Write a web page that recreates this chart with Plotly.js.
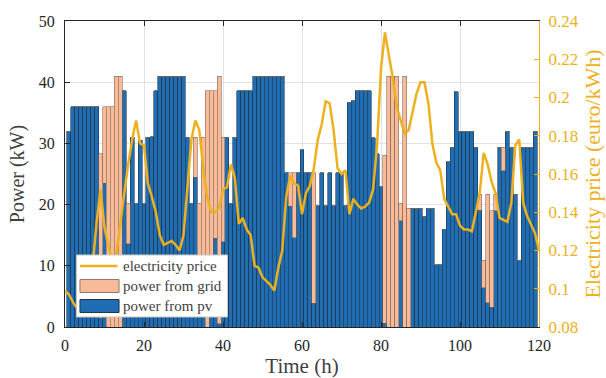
<!DOCTYPE html>
<html>
<head>
<meta charset="utf-8">
<script src="https://cdn.plot.ly/plotly-3.0.1.min.js"></script>
<style>
html,body{margin:0;padding:0;background:#fff;}
#chart{width:606px;height:378px;}
</style>
</head>
<body>
<div id="chart"></div>
<script>
// Hour index of each bar (1..119)
const hours = Array.from({length: 119}, (_, i) => i + 1);

// Power supplied by PV (kW), bars 1..119
const pvPower = [
  32, 36, 36, 36, 36, 36, 36, 36, 1.5, 23.5,
  0, 0, 0, 0, 38.6, 13.6, 31, 20.2, 30.5, 20.2,
  31, 31.1, 38.6, 41, 41, 41, 41, 41, 41, 41,
  31, 20.2, 24.5, 8, 6, 0, 4, 14.5, 0.5, 13.9,
  31, 20.2, 31, 38.6, 38.6, 38.6, 38.6, 41, 41, 41,
  41, 41, 41, 41, 41, 25.2, 19.7, 14.6, 25.2, 29,
  25.2, 25.2, 3.9, 19.8, 25.2, 19.8, 25.2, 19.8, 25.2, 25.2,
  19.8, 36.7, 37, 38.6, 38.6, 38.6, 38.6, 30.9, 28.3, 22.9,
  0.6, 0, 0, 0, 17.4, 0, 0, 19.4, 19.4, 19.4,
  18.1, 19.4, 19.4, 10.2, 10.2, 16, 27, 29.4, 38.4, 32,
  32, 32, 32, 29.4, 19.1, 6.4, 4, 3.2, 19, 29.4,
  25.5, 32, 29.4, 21.7, 10.9, 29.4, 29.4, 29.4, 32
];

// Power bought from the grid (kW), bars 1..119
const gridPower = [
  0, 0, 0, 0, 0, 0, 0, 0, 26.8, 12.5,
  36, 36, 41, 41, 0, 6.6, 0, 0, 0, 0,
  0, 0, 0, 0, 0, 0, 0, 0, 0, 0,
  0, 0, 6.5, 12.2, 25, 38.6, 34.6, 24.1, 40.5, 17.1,
  0, 0, 0, 0, 0, 0, 0, 0, 0, 0,
  0, 0, 0, 0, 0, 0, 5.5, 10.6, 0, 0,
  0, 0, 21.3, 0, 0, 0, 0, 0, 0, 0,
  0, 0, 0, 0, 0, 0, 0, 0, 0, 0,
  27.5, 41, 41, 41, 2.8, 41, 19.4, 0, 0, 0,
  0, 0, 0, 0, 0, 0, 0, 0, 0, 0,
  0, 0, 0, 0, 2.6, 4.5, 17.7, 15.8, 2.7, 0,
  3.9, 0, 0, 0, 0, 0, 0, 0, 0
];

// Electricity price time axis (h) and values (euro/kWh)
const priceHours = Array.from({length: 121}, (_, i) => i);
const price = [
  0.099, 0.097, 0.093, 0.090, 0.088, 0.092, 0.100, 0.112, 0.135, 0.152,
  0.132, 0.123, 0.113, 0.118, 0.135, 0.150, 0.165, 0.178, 0.188, 0.176,
  0.175, 0.155, 0.148, 0.140, 0.128, 0.123, 0.124, 0.125, 0.123, 0.120,
  0.128, 0.155, 0.178, 0.188, 0.183, 0.163, 0.148, 0.140, 0.140, 0.142,
  0.152, 0.153, 0.165, 0.158, 0.134, 0.137, 0.131, 0.128, 0.112, 0.111,
  0.106, 0.104, 0.102, 0.099, 0.111, 0.120, 0.148, 0.159, 0.155, 0.154,
  0.139, 0.150, 0.154, 0.163, 0.178, 0.186, 0.198, 0.197, 0.183, 0.163,
  0.160, 0.162, 0.139, 0.147, 0.144, 0.142, 0.143, 0.145, 0.152, 0.175,
  0.215, 0.234, 0.222, 0.210, 0.195, 0.188, 0.181, 0.183, 0.193, 0.202,
  0.208, 0.208, 0.197, 0.176, 0.166, 0.162, 0.147, 0.143, 0.139, 0.139,
  0.133, 0.131, 0.131, 0.130, 0.140, 0.150, 0.171, 0.165, 0.156, 0.150,
  0.137, 0.136, 0.135, 0.145, 0.175, 0.178, 0.145, 0.138, 0.133, 0.129,
  0.120
];

// Tick values / labels
const xTicks = [0, 20, 40, 60, 80, 100, 120];
const yTicks = [0, 10, 20, 30, 40, 50];
const y2Ticks = [0.08, 0.1, 0.12, 0.14, 0.16, 0.18, 0.2, 0.22, 0.24];
const y2TickText = ['0.08', '0.1', '0.12', '0.14', '0.16', '0.18', '0.2', '0.22', '0.24'];

// Series names
const seriesNames = ['electricity price', 'power from grid', 'power from pv'];

const BLUE = '#1f6db3';
const ORANGE = '#f9bb97';
const GOLD = '#EDB120';
const FONT = '"Liberation Serif", "Times New Roman", serif';

const traces = [
  {
    type: 'bar', x: hours, y: pvPower, name: seriesNames[2],
    width: 1,
    marker: {color: BLUE, line: {color: '#243445', width: 0.6}},
    hoverinfo: 'skip'
  },
  {
    type: 'bar', x: hours, y: gridPower, name: seriesNames[1],
    width: 1,
    marker: {color: ORANGE, line: {color: '#7d6a60', width: 0.6}},
    hoverinfo: 'skip'
  },
  {
    type: 'scatter', mode: 'lines', x: priceHours, y: price, name: seriesNames[0],
    yaxis: 'y2',
    line: {color: GOLD, width: 2.5},
    hoverinfo: 'skip'
  }
];

// paper-coordinate helpers for the hand-built legend
const L = {x0: 0.0243, x1: 0.3428, y0: 0.0327, y1: 0.2353,
           sx0: 0.0316, sx1: 0.1140, tx: 0.1181,
           rows: [0.1993, 0.1340, 0.0686], ph: 0.0212};

const shapes = [
  {type: 'rect', xref: 'paper', yref: 'paper', layer: 'above',
   x0: L.x0, x1: L.x1, y0: L.y0, y1: L.y1,
   fillcolor: '#ffffff', line: {color: '#c8c8c8', width: 1}},
  {type: 'line', xref: 'paper', yref: 'paper', layer: 'above',
   x0: L.sx0, x1: L.sx1 - 0.003, y0: L.rows[0], y1: L.rows[0],
   line: {color: GOLD, width: 2.5}},
  {type: 'rect', xref: 'paper', yref: 'paper', layer: 'above',
   x0: L.sx0, x1: L.sx1, y0: L.rows[1] - L.ph, y1: L.rows[1] + L.ph,
   fillcolor: ORANGE, line: {color: '#8a7a72', width: 1}},
  {type: 'rect', xref: 'paper', yref: 'paper', layer: 'above',
   x0: L.sx0, x1: L.sx1, y0: L.rows[2] - L.ph, y1: L.rows[2] + L.ph,
   fillcolor: BLUE, line: {color: '#243445', width: 1}}
];

const annotations = seriesNames.map((n, i) => ({
  xref: 'paper', yref: 'paper', x: L.tx, y: L.rows[i],
  xanchor: 'left', yanchor: 'middle', text: n, showarrow: false,
  font: {family: FONT, size: 15, color: '#404040'}
}));

const layout = {
  width: 606, height: 378,
  margin: {l: 65, r: 67, t: 21, b: 51, pad: 0},
  paper_bgcolor: '#ffffff', plot_bgcolor: '#ffffff',
  barmode: 'stack', bargap: 0,
  showlegend: false,
  font: {family: FONT, size: 16, color: '#262626'},
  xaxis: {
    range: [0, 120], tickvals: xTicks, ticktext: xTicks.map(String),
    ticks: 'inside', ticklen: 5, tickcolor: '#262626', tickwidth: 1,
    showline: true, linecolor: '#262626', linewidth: 1, mirror: 'ticks',
    showgrid: true, gridcolor: '#e2e2e2', gridwidth: 1, zeroline: false,
    ticklabelstandoff: 4,
    tickfont: {family: FONT, size: 16, color: '#262626'},
    title: {text: 'Time (h)', font: {family: FONT, size: 21, color: '#404040'}, standoff: 5}
  },
  yaxis: {
    range: [0, 50], tickvals: yTicks, ticktext: yTicks.map(String),
    ticks: 'inside', ticklen: 5, tickcolor: '#262626', tickwidth: 1,
    showline: true, linecolor: '#262626', linewidth: 1, mirror: false,
    showgrid: true, gridcolor: '#e2e2e2', gridwidth: 1, zeroline: false,
    ticklabelstandoff: 6,
    tickfont: {family: FONT, size: 16, color: '#262626'},
    title: {text: 'Power (kW)', font: {family: FONT, size: 20, color: '#404040'}, standoff: 8}
  },
  yaxis2: {
    overlaying: 'y', side: 'right',
    range: [0.08, 0.24], tickvals: y2Ticks, ticktext: y2TickText,
    ticks: 'inside', ticklen: 5, tickcolor: GOLD, tickwidth: 1,
    showline: true, linecolor: GOLD, linewidth: 1,
    showgrid: false, zeroline: false,
    ticklabelstandoff: 5,
    tickfont: {family: FONT, size: 17, color: GOLD},
    title: {text: 'Electricity price (euro/kWh)', font: {family: FONT, size: 22, color: GOLD}, standoff: 6}
  },
  shapes: shapes,
  annotations: annotations
};

Plotly.newPlot('chart', traces, layout, {staticPlot: true, displayModeBar: false});
</script>
</body>
</html>
